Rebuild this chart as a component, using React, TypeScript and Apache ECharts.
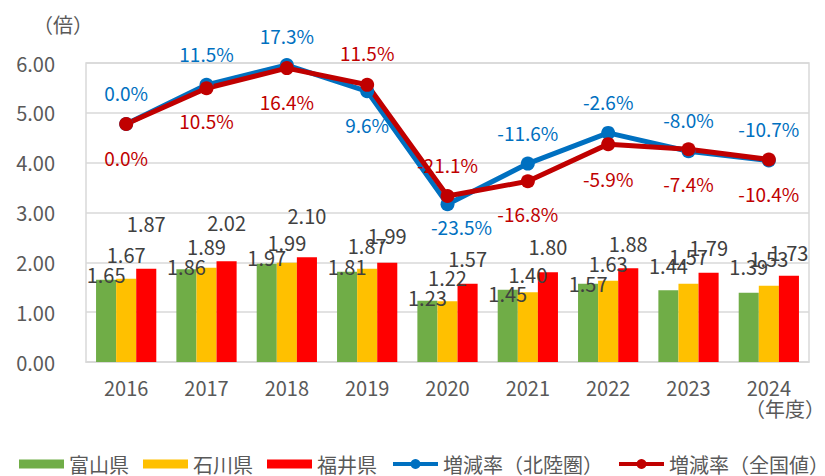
import React, { useEffect, useRef } from "react";
import * as echarts from "echarts";

const years = ["2016", "2017", "2018", "2019", "2020", "2021", "2022", "2023", "2024"];
const toyama = [1.65, 1.86, 1.97, 1.81, 1.23, 1.45, 1.57, 1.44, 1.39];
const ishikawa = [1.67, 1.89, 1.99, 1.87, 1.22, 1.40, 1.63, 1.57, 1.53];
const fukui = [1.87, 2.02, 2.10, 1.99, 1.57, 1.80, 1.88, 1.79, 1.73];
const rateHokuriku = [0.0, 11.5, 17.3, 9.6, -23.5, -11.6, -2.6, -8.0, -10.7];
const rateNational = [0.0, 10.5, 16.4, 11.5, -21.1, -16.8, -5.9, -7.4, -10.4];

// Excel-style manually placed data labels (pixel nudges, not data)
const toyamaLift = [5, 3, 6, 5, 3, -4, 0, 25, 26];
const ishikawaLift = [24, 21, 20, 23, 24, 18, 17, 27, 27];
const fukuiLift = [45, 39, 42, 27, 25, 26, 25, 25, 23];
const hokurikuShift = [[0, -32], [0, -31], [0, -30], [0, 33], [14, 22], [0, -31], [0, -31], [0, -32], [0, -32]];
const nationalShift = [[0, 33], [0, 32], [0, 33], [0, -32], [0, -31], [0, 32], [0, 34], [0, 34], [0, 34]];

const FONT = '"Noto Sans CJK JP", "Noto Sans", sans-serif';
const GRAY = "#595959";
const BAR_ICON = "path://M0 0H45V9H0Z";

export default function App() {
  const ref = useRef<HTMLDivElement>(null);
  useEffect(() => {
    if (!ref.current) return;
    const chart = echarts.init(ref.current, null, { renderer: "svg" });
    const barLabel = (lift: number[], vals: number[]) =>
      vals.map((v, i) => ({
        value: v,
        label: { position: ["50%", -lift[i]] as any },
      }));
    const barSeries = (name: string, color: string, vals: number[], lift: number[]) => ({
      name,
      type: "bar",
      barGap: "0%",
      barCategoryGap: "25%",
      itemStyle: { color },
      data: barLabel(lift, vals),
      label: {
        show: true,
        align: "center",
        verticalAlign: "middle",
        color: "#404040",
        fontFamily: FONT,
        fontSize: 20,
        formatter: (p: any) => Number(p.value).toFixed(2),
      },
      z: 2,
    });
    const lineSeries = (name: string, color: string, vals: number[], shift: number[][]) => ({
      name,
      type: "line",
      yAxisIndex: 1,
      symbol: "circle",
      symbolSize: 14,
      itemStyle: { color },
      lineStyle: { color, width: 5 },
      data: vals.map((v, i) => ({ value: v, label: { offset: shift[i] } })),
      label: {
        show: true,
        position: "inside",
        align: "center",
        verticalAlign: "middle",
        color,
        fontFamily: FONT,
        fontSize: 19,
        formatter: (p: any) => Number(p.value).toFixed(1) + "%",
      },
      z: 5,
    });
    chart.setOption({
      animation: false,
      textStyle: { fontFamily: FONT },
      grid: {
        left: 86,
        right: 16,
        top: 63,
        bottom: 114,
        show: true,
        borderColor: "#D9D9D9",
        borderWidth: 1.5,
      },
      legend: {
        left: 19,
        top: 454,
        width: 820,
        padding: 0,
        itemWidth: 45,
        itemHeight: 12.5,
        itemGap: 14,
        lineStyle: { width: 4 },
        textStyle: { color: GRAY, fontSize: 20, fontFamily: FONT },
        data: [
          { name: "富山県", icon: BAR_ICON },
          { name: "石川県", icon: BAR_ICON },
          { name: "福井県", icon: BAR_ICON },
          { name: "増減率（北陸圏）" },
          { name: "増減率（全国値）" },
        ],
      },
      xAxis: {
        type: "category",
        data: years,
        axisLine: { lineStyle: { color: "#D9D9D9", width: 1.5 } },
        axisTick: { show: false },
        axisLabel: { color: GRAY, fontSize: 20, margin: 15, fontFamily: FONT },
      },
      yAxis: [
        {
          type: "value",
          min: 0,
          max: 6,
          interval: 1,
          axisLine: { show: false },
          axisTick: { show: false },
          splitLine: { lineStyle: { color: "#D9D9D9", width: 1.5 } },
          axisLabel: {
            color: GRAY,
            fontSize: 20,
            margin: 31,
            fontFamily: FONT,
            formatter: (v: number) => v.toFixed(2),
          },
        },
        {
          type: "value",
          min: -69.8,
          max: 17.9,
          show: false,
          splitLine: { show: false },
        },
      ],
      graphic: [
        {
          type: "text",
          left: 33,
          top: 14,
          style: { text: "（倍）", fill: GRAY, fontSize: 20, fontFamily: FONT },
        },
        {
          type: "text",
          right: 0,
          top: 398,
          style: { text: "（年度）", fill: GRAY, fontSize: 20, fontFamily: FONT },
        },
      ],
      series: [
        barSeries("富山県", "#70AD47", toyama, toyamaLift),
        barSeries("石川県", "#FFC000", ishikawa, ishikawaLift),
        barSeries("福井県", "#FF0000", fukui, fukuiLift),
        lineSeries("増減率（北陸圏）", "#0070C0", rateHokuriku, hokurikuShift),
        lineSeries("増減率（全国値）", "#C00000", rateNational, nationalShift),
      ],
    });
    return () => chart.dispose();
  }, []);
  return (
    <div
      ref={ref}
      style={{ position: "fixed", left: 0, top: 0, width: 825, height: 476, background: "#fff" }}
    />
  );
}
